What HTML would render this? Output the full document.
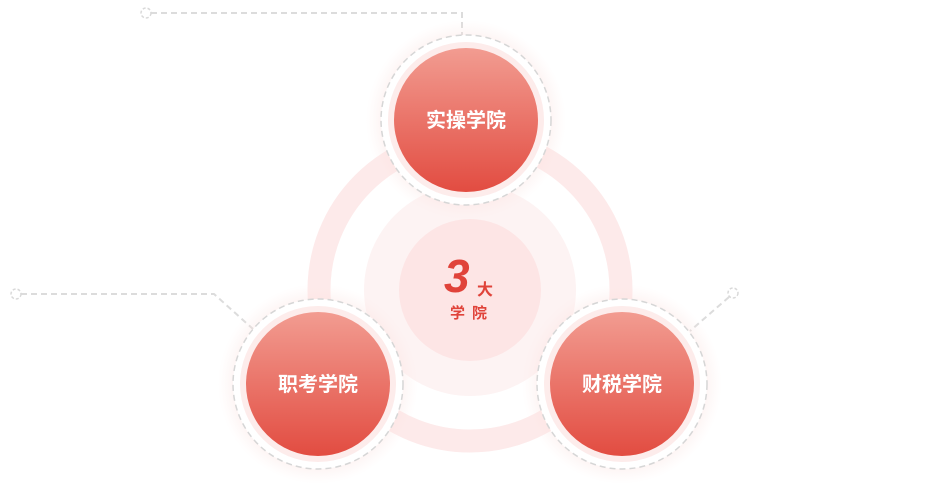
<!DOCTYPE html>
<html><head><meta charset="utf-8"><style>
html,body{margin:0;padding:0;background:#fff;width:930px;height:500px;overflow:hidden}
svg text{font-family:"Liberation Sans","Noto Sans CJK SC",sans-serif}
</style></head><body>
<svg width="930" height="500" viewBox="0 0 930 500" xmlns="http://www.w3.org/2000/svg">
<defs>
<linearGradient id="rg" x1="0" y1="0" x2="0" y2="1">
<stop offset="0" stop-color="#f29c91"/><stop offset="1" stop-color="#e24c41"/>
</linearGradient>
<radialGradient id="glow">
<stop offset="0.72" stop-color="#fbd9d6" stop-opacity="1"/>
<stop offset="1" stop-color="#fde9e7" stop-opacity="0"/>
</radialGradient>
</defs>
<circle cx="470" cy="290" r="151" fill="none" stroke="#fdeaea" stroke-width="23"/>
<circle cx="470" cy="290" r="106" fill="#fdf3f3"/>
<circle cx="470" cy="290" r="71" fill="#fde5e5"/>
<text x="444" y="292" font-size="46" font-weight="bold" fill="#e0433a" font-style="italic">3</text>
<text x="477" y="295" font-size="16" font-weight="bold" fill="#e0433a">大</text>
<text x="450" y="318" font-size="15" font-weight="bold" fill="#e0433a" letter-spacing="7">学院</text>
<g fill="none" stroke="#dcdcdc" stroke-width="2" stroke-dasharray="6,4">
<polyline points="151,13 462,13 462,37"/>
<polyline points="21,294 214,294 253,329"/>
<line x1="729" y1="297" x2="690" y2="331"/>
</g>
<g fill="#fff" stroke="#d9d9d9" stroke-width="1.5" stroke-dasharray="3,2">
<circle cx="146" cy="13" r="5"/><circle cx="16" cy="294" r="5"/><circle cx="733" cy="293" r="5"/>
</g>
<g>
<circle cx="466" cy="120" r="100" fill="url(#glow)" opacity="0.6"/>
<circle cx="466" cy="120" r="85" fill="#fff" stroke="#d6d6d6" stroke-width="1.5" stroke-dasharray="6,4"/>
<circle cx="466" cy="120" r="78" fill="#fdeceb"/>
<circle cx="466" cy="120" r="72" fill="url(#rg)"/>
<text x="466" y="127" font-size="20" font-weight="bold" fill="#fff" text-anchor="middle">实操学院</text>
</g>
<g>
<circle cx="318" cy="384" r="100" fill="url(#glow)" opacity="0.6"/>
<circle cx="318" cy="384" r="85" fill="#fff" stroke="#d6d6d6" stroke-width="1.5" stroke-dasharray="6,4"/>
<circle cx="318" cy="384" r="78" fill="#fdeceb"/>
<circle cx="318" cy="384" r="72" fill="url(#rg)"/>
<text x="318" y="391" font-size="20" font-weight="bold" fill="#fff" text-anchor="middle">职考学院</text>
</g>
<g>
<circle cx="622" cy="384" r="100" fill="url(#glow)" opacity="0.6"/>
<circle cx="622" cy="384" r="85" fill="#fff" stroke="#d6d6d6" stroke-width="1.5" stroke-dasharray="6,4"/>
<circle cx="622" cy="384" r="78" fill="#fdeceb"/>
<circle cx="622" cy="384" r="72" fill="url(#rg)"/>
<text x="622" y="391" font-size="20" font-weight="bold" fill="#fff" text-anchor="middle">财税学院</text>
</g>
</svg>
</body></html>
